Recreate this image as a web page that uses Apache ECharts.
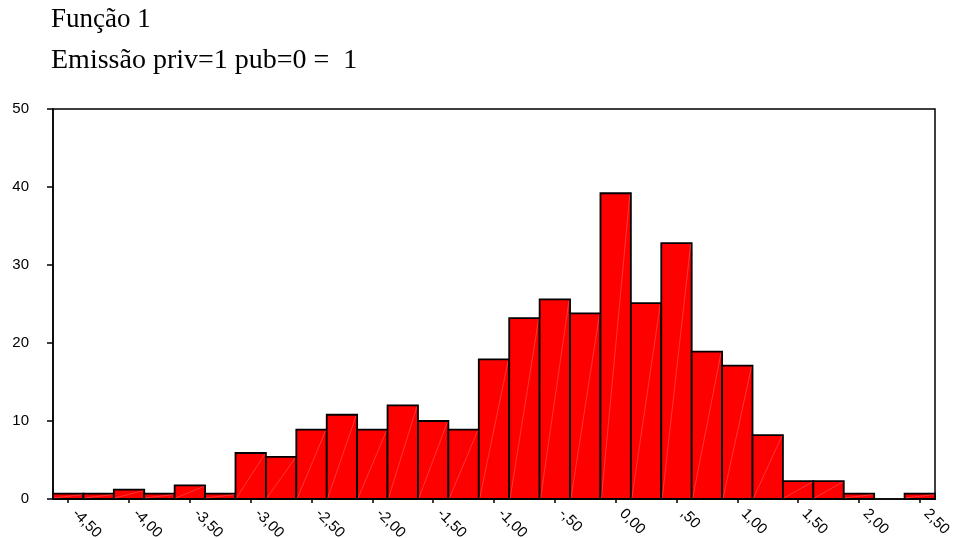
<!DOCTYPE html>
<html>
<head>
<meta charset="utf-8">
<script src="https://cdn.jsdelivr.net/npm/echarts@6/dist/echarts.min.js"></script>
<style>html,body{margin:0;padding:0;background:#fff}#c{width:953px;height:538px}</style>
</head>
<body>
<div id="c"></div>
<script>
var titleLine1 = "Função 1";
var titleLine2 = "Emissão priv=1 pub=0 =  1";
var categories = ["-4,50","-4,25","-4,00","-3,75","-3,50","-3,25","-3,00","-2,75","-2,50","-2,25","-2,00","-1,75","-1,50","-1,25","-1,00","-,75","-,50","-,25","0,00",",25",",50",",75","1,00","1,25","1,50","1,75","2,00","2,25","2,50"];
var counts = [0.7,0.7,1.2,0.7,1.75,0.7,5.9,5.4,8.9,10.8,8.9,12.0,10.0,8.9,17.9,23.2,25.6,23.8,39.2,25.1,32.8,18.9,17.1,8.2,2.3,2.3,0.7,0,0.7];
var yMin = 0, yMax = 50, yStep = 10;

var chart = echarts.init(document.getElementById('c'), null, {renderer: 'canvas'});
chart.setOption({
  animation: false,
  backgroundColor: '#fff',
  graphic: [
    {type: 'text', left: 51, top: 6, style: {text: titleLine1, font: '27px "Liberation Serif", "Times New Roman", serif', fill: '#000'}},
    {type: 'text', left: 51, top: 47, style: {text: titleLine2, font: '28px "Liberation Serif", "Times New Roman", serif', fill: '#000'}}
  ],
  grid: {left: 53, right: 18, top: 109, bottom: 39, outerBoundsMode: 'none', containLabel: false, show: true, borderColor: '#000', borderWidth: 1.5, backgroundColor: 'transparent'},
  xAxis: {
    type: 'category',
    data: categories,
    boundaryGap: true,
    axisLine: {lineStyle: {color: '#000', width: 1.5}},
    axisTick: {show: true, alignWithLabel: true, interval: 1, length: 4, lineStyle: {color: '#000', width: 1.5}},
    axisLabel: {interval: 1, rotate: -45, margin: 6, padding: [0, 0, 0, 9], color: '#000', fontSize: 15, fontFamily: '"Liberation Sans", Arial, sans-serif'},
    splitLine: {show: false}
  },
  yAxis: {
    type: 'value',
    min: yMin, max: yMax, interval: yStep,
    axisLine: {show: true, lineStyle: {color: '#000', width: 1.5}},
    axisTick: {show: true, length: 6, lineStyle: {color: '#000', width: 1.5}},
    axisLabel: {margin: 24, color: '#000', fontSize: 15, fontFamily: '"Liberation Sans", Arial, sans-serif'},
    splitLine: {show: false}
  },
  series: [{
    type: 'custom',
    data: counts.map(function (v, i) { return [i, v]; }),
    renderItem: function (params, api) {
      var i = api.value(0), v = api.value(1);
      if (!v) return null;
      var top = api.coord([i, v]);
      var base = api.coord([i, 0]);
      var w = api.size([1, 0])[0];
      var x0 = top[0] - w / 2, x1 = top[0] + w / 2;
      return {
        type: 'group',
        children: [
          {type: 'rect', shape: {x: x0, y: top[1], width: w, height: base[1] - top[1]},
           style: {fill: '#ff0000', stroke: '#000', lineWidth: 1.8}},
          {type: 'line', shape: {x1: x0 + 1, y1: base[1] - 1, x2: x1 - 1, y2: top[1] + 1},
           style: {stroke: 'rgba(255,255,255,0.35)', lineWidth: 0.6}}
        ]
      };
    }
  }]
});
</script>
</body>
</html>
